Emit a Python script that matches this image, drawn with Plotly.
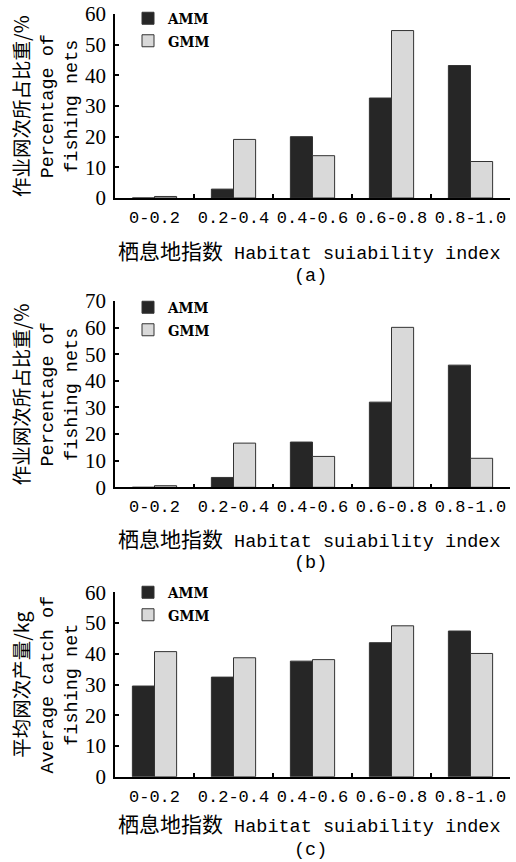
import plotly.graph_objects as go

categories = ["0-0.2", "0.2-0.4", "0.4-0.6", "0.6-0.8", "0.8-1.0"]
series_names = ["AMM", "GMM"]

# (a) Percentage of fishing nets
a_amm = [0.0, 2.9, 20.0, 32.6, 43.2]
a_gmm = [0.5, 19.1, 13.8, 54.6, 11.9]
# (b) Percentage of fishing nets
b_amm = [0.0, 3.7, 17.0, 32.0, 45.9]
b_gmm = [0.6, 16.6, 11.6, 60.1, 10.9]
# (c) Average catch of fishing net
c_amm = [29.5, 32.4, 37.6, 43.6, 47.4]
c_gmm = [40.7, 38.7, 38.1, 49.1, 40.1]

y_ticks_a = [0, 10, 20, 30, 40, 50, 60]
y_ticks_b = [0, 10, 20, 30, 40, 50, 60, 70]
y_ticks_c = [0, 10, 20, 30, 40, 50, 60]

W, H = 516, 862
CJK = "Noto Sans CJK SC"
MONO = "Liberation Mono"
SERIF = "Liberation Serif"

colors = {"AMM": "#262626", "GMM": "#d9d9d9"}

fig = go.Figure()

panels = [
    ("x", "y", "legend", a_amm, a_gmm),
    ("x2", "y2", "legend2", b_amm, b_gmm),
    ("x3", "y3", "legend3", c_amm, c_gmm),
]
for xa, ya, lg, amm, gmm in panels:
    for name, vals in zip(series_names, [amm, gmm]):
        fig.add_trace(go.Bar(
            x=categories, y=vals, name=name, xaxis=xa, yaxis=ya, legend=lg,
            marker=dict(color=colors[name], line=dict(color="#333333", width=1)),
        ))

def py(px):
    return 1 - px / H

def px_x(px):
    return px / W

xdom = [px_x(115), px_x(510)]
# (top_px, bottom_px, range max, ticks)
geo = [(14, 198, 60, y_ticks_a), (301, 487.3, 70, y_ticks_b), (592.3, 776.7, 60, y_ticks_c)]

axis_common_x = dict(
    type="category", showline=True, linecolor="black", linewidth=1.5,
    ticks="inside", ticklen=4, tickcolor="black", tickwidth=1.5, tickson="boundaries",
    showgrid=False, zeroline=False, automargin=False, ticklabelstandoff=3, tickangle=0,
    tickfont=dict(family=MONO, size=17, color="black"),
)
axis_common_y = dict(
    showline=True, linecolor="black", linewidth=1.5,
    ticks="inside", ticklen=4, tickcolor="black", tickwidth=1.5,
    showgrid=False, zeroline=False, automargin=False,
    tickfont=dict(family=SERIF, size=21, color="black"),
)

layout = {}
for i, (top, bot, ymax, ticks) in enumerate(geo):
    suffix = "" if i == 0 else str(i + 1)
    layout["xaxis" + suffix] = dict(axis_common_x, domain=xdom, anchor="y" + suffix)
    layout["yaxis" + suffix] = dict(axis_common_y, domain=[py(bot), py(top)],
                                    anchor="x" + suffix, range=[0, ymax],
                                    tickvals=ticks, ticklabelstandoff=3)

legend_font = dict(family="DejaVu Serif Condensed, " + SERIF, size=15, color="black",
                   weight="bold")
legend_common = dict(font=legend_font, bgcolor="rgba(0,0,0,0)", xanchor="left",
                     yanchor="top", tracegroupgap=0, itemwidth=30)
layout["legend"] = dict(legend_common, x=px_x(128), y=py(2))
layout["legend2"] = dict(legend_common, x=px_x(128), y=py(291))
layout["legend3"] = dict(legend_common, x=px_x(128), y=py(576))

fig.update_layout(
    width=W, height=H, margin=dict(l=0, r=0, t=0, b=0, autoexpand=False),
    paper_bgcolor="white", plot_bgcolor="white",
    barmode="group", bargap=0.44, bargroupgap=0,
    showlegend=True,
    **layout,
)

xtitle = ('<span style="font-family:%s;font-size:21px">栖息地指数</span> '
          'Habitat suiability index') % CJK
ytitle_pct = ('<span style="font-family:%s;font-size:19.5px">作业网次所占比重/%%</span><br>'
              'Percentage of<br>fishing nets') % CJK
ytitle_catch = ('<span style="font-family:%s;font-size:19.5px">平均网次产量/kg</span><br>'
                'Average catch of<br>fishing net') % CJK

ann_font = dict(family=MONO, size=18.5, color="black")
annotations = []
for (top, bot, ymax, ticks), lab, yt, toff, off in zip(
        geo, ["(a)", "(b)", "(c)"], [ytitle_pct, ytitle_pct, ytitle_catch],
        [52, 51, 46], [78, 76, 74]):
    annotations.append(dict(text=xtitle, x=px_x(116), y=py(bot + toff), xref="paper", yref="paper",
                            showarrow=False, xanchor="left", yanchor="middle", font=ann_font))
    annotations.append(dict(text=lab, x=px_x(310), y=py(bot + off), xref="paper", yref="paper",
                            showarrow=False, xanchor="center", yanchor="middle", font=ann_font))
    annotations.append(dict(text=yt, x=px_x(44), y=py((top + bot) / 2), xref="paper", yref="paper",
                            showarrow=False, xanchor="center", yanchor="middle", textangle=-90,
                            font=ann_font))
fig.update_layout(annotations=annotations)

fig.write_html("out.html", config={"displayModeBar": False},
               post_script="document.body.style.margin='0';")
